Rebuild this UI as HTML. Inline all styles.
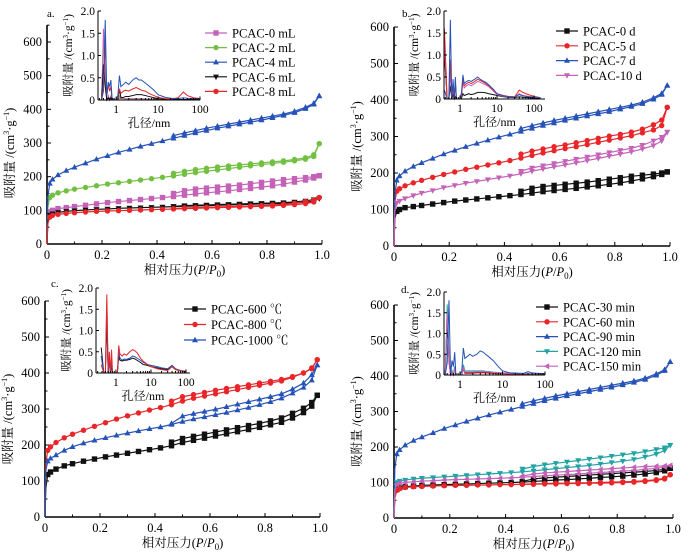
<!DOCTYPE html>
<html><head><meta charset="utf-8"><style>
html,body{margin:0;padding:0;background:#fff;}
svg{display:block;font-family:"Liberation Serif","Noto Serif CJK SC","Noto Sans CJK SC",serif;}
</style></head><body>
<svg id="fig" width="689" height="555" viewBox="0 0 689 555" xmlns="http://www.w3.org/2000/svg"></svg>
<script>
// ---- isotherm data ----
const pGrid = [0,0.003,0.01,0.02,0.04,0.07,0.1,0.14,0.18,0.22,0.26,0.3,0.34,0.38,0.42,0.46,0.5,0.54,0.58,0.62,0.66,0.7,0.74,0.78,0.82,0.86,0.9,0.94,0.97,0.99];
const pDes = [0.46,0.5,0.54,0.58,0.62,0.66,0.7,0.74,0.78,0.82,0.86,0.9,0.94,0.97,0.99];
const yTicks = [0,100,200,300,400,500,600];
const xTicks = [0,0.2,0.4,0.6,0.8,1.0];
const xTickLabels = ["0","0.2","0.4","0.6","0.8","1.0"];

const aBlueAds = [0,140,180,192,205,218,228,240,252,262,272,281,290,298,306,314,322,330,337,344,350,356,362,368,375,382,390,402,415,440];
const aBlueDes = [322,330,337,344,350,356,362,368,374,380,386,394,406,418,440];
const aGreenAds = [0,110,138,145,152,158,163,168,173,178,182,186,190,194,198,202,207,212,216,220,224,228,232,236,239,243,247,252,260,298];
const aGreenDes = [210,216,221,225,229,232,235,238,241,244,247,251,256,265,298];
const aPinkAds = [0,75,95,100,105,108,111,115,119,123,126,129,132,135,138,141,145,149,152,155,158,162,165,169,173,178,184,190,196,203];
const aPinkDes = [150,158,163,166,169,172,175,179,183,187,191,194,197,200,203];
const aBlackAds = [0,65,86,90,94,97,99,101,103,104,106,107,108,109,110,111,112,113,114,115,116,117,118,119,120,121,122,124,127,135];
const aBlackDes = [112,114,115,116,117,118,119,120,121,122,123,125,128,132,135];
const aRedAds = [0,60,80,85,88,91,93,95,97,98,99,100,101,102,103,104,105,106,107,108,109,110,111,112,113,115,117,120,125,138];
const aRedDes = [105,107,108,109,110,111,112,113,114,116,118,121,126,130,138];

const bRedAds = [0,120,150,157,165,173,180,188,196,203,210,216,222,228,234,241,248,255,261,267,272,278,284,290,296,302,310,318,330,380];
const bRedDes = [252,260,266,272,277,283,289,295,301,306,312,320,332,345,380];
const bPinkAds = [0,95,118,123,130,138,145,152,160,166,172,177,182,187,192,198,205,211,217,222,228,234,240,246,252,258,266,275,288,312];
const bPinkDes = [205,214,220,226,232,238,244,250,256,262,268,276,288,298,312];

const cBlackAds = [0,80,118,125,133,142,148,155,161,167,172,177,182,187,192,198,207,213,219,225,231,237,243,249,256,263,275,290,308,338];
const cBlackDes = [208,218,224,230,236,242,248,254,260,267,275,288,302,318,338];
const cRedAds = [0,150,185,195,207,220,230,241,252,262,272,281,289,297,304,312,322,330,336,342,348,354,360,366,372,378,388,400,412,437];
const cRedDes = [322,334,340,346,352,357,362,367,372,377,382,390,400,414,437];
const cBlueAds = [0,130,155,163,172,185,195,205,213,220,227,233,239,245,250,257,265,272,278,284,290,297,304,312,320,330,344,360,380,422];
const cBlueDes = [260,280,287,293,299,306,313,320,327,334,342,355,372,395,422];

const dBlackAds = [0,60,80,85,88,90,92,93,94,95,96,97,98,99,100,101,103,105,107,108,110,112,114,116,118,121,124,128,133,140];
const dBlackDes = [103,110,113,115,117,119,121,123,125,127,129,131,134,137,140];
const dRedAds = [0,55,78,83,86,88,89,90,91,92,92,93,93,94,94,95,95,96,96,97,97,98,98,99,100,101,103,106,110,122];
const dRedDes = [95,96,97,98,98,99,99,100,101,102,103,105,108,112,122];
const dTealAds = [0,80,100,104,107,110,112,114,116,118,120,122,124,126,128,130,133,136,139,142,145,148,152,156,160,165,172,180,190,205];
const dTealDes = [138,145,150,154,158,162,166,170,174,178,182,187,193,198,205];
const dPinkAds = [0,75,95,98,100,102,104,105,107,108,109,110,111,112,113,115,117,119,121,122,124,126,128,130,132,134,137,140,144,148];
const dPinkDes = [118,124,127,129,131,133,135,137,139,141,143,145,146,147,148];

// ---- pore size distribution (inset) data ----
const dGrid = [0.38,0.45,0.5,0.55,0.6,0.65,0.7,0.75,0.8,0.9,1.0,1.1,1.2,1.3,1.5,1.7,2.0,2.5,3.0,3.5,4,5,6,8,10,15,20,30,40,50,70,100,150,200];
const insetYTicks = [0,0.5,1.0,1.5,2.0];
const insetYLabels = ["0","0.5","1.0","1.5","2.0"];
const insetXTicks = [1,10,100];

const iaBlue  = [0,0,0.2,1.8,0.1,0.4,0.3,0.45,0.05,0,0,0.1,0.55,0.3,0.35,0.4,0.35,0.45,0.5,0.45,0.45,0.38,0.32,0.22,0.12,0.06,0.04,0.03,0.05,0.04,0.03,0.02,0.02,0.02];
const iaRed   = [0,0,0.3,1.3,0.1,0.35,0.2,0.3,0.02,0,0,0.05,0.25,0.15,0.2,0.22,0.2,0.25,0.28,0.25,0.22,0.2,0.15,0.1,0.06,0.03,0.02,0.05,0.18,0.1,0.05,0.03,0.02,0.02];
const iaGreen = [0,0,1.4,0.5,0,0.05,0,0.1,0,0,0,0,0.1,0.05,0.03,0.02,0.02,0.02,0.02,0.02,0.02,0.02,0.02,0.02,0.02,0.01,0.01,0.01,0.01,0.01,0.01,0.01,0.01,0.01];
const iaPink  = [0,0,1.6,0.4,0,0.1,0,0.08,0,0,0,0,0.05,0.03,0.03,0.03,0.03,0.03,0.03,0.03,0.03,0.02,0.02,0.02,0.02,0.01,0.01,0.01,0.01,0.01,0.01,0.01,0.01,0.01];
const iaBlack = [0,0,0.8,0.3,0,0.05,0,0.05,0,0,0,0,0.25,0.05,0.06,0.08,0.08,0.1,0.12,0.12,0.12,0.1,0.08,0.05,0.03,0.02,0.01,0.01,0.01,0.01,0.01,0.01,0.01,0.01];

const ibBlack = [1.0,0,0,0.3,0,0.1,0,0.05,0,0,0,0.02,0.12,0.08,0.1,0.12,0.1,0.12,0.15,0.15,0.15,0.14,0.12,0.1,0.08,0.05,0.04,0.03,0.05,0.04,0.03,0.02,0.02,0.01];
const ibRed   = [1.6,0,0,0.9,0,0.35,0,0.4,0,0,0,0.1,0.45,0.3,0.35,0.38,0.35,0.4,0.45,0.42,0.4,0.35,0.3,0.2,0.12,0.08,0.06,0.05,0.2,0.15,0.1,0.06,0.03,0.02];
const ibBlue  = [0.2,0,0,1.8,0,0.45,0,0.5,0,0,0,0.15,0.55,0.35,0.4,0.42,0.4,0.45,0.5,0.45,0.42,0.38,0.32,0.22,0.12,0.07,0.05,0.04,0.1,0.07,0.05,0.04,0.03,0.02];
const ibPink  = [1.2,0,0,0.6,0,0.3,0,0.35,0,0,0,0.08,0.4,0.25,0.3,0.33,0.3,0.35,0.4,0.38,0.36,0.32,0.28,0.18,0.1,0.06,0.05,0.04,0.12,0.08,0.06,0.04,0.03,0.02];

const icBlack = [0.6,0,0,1.2,0,0.3,0,0.2,0,0,0,0,0.4,0.3,0.28,0.3,0.3,0.32,0.35,0.33,0.3,0.25,0.2,0.18,0.15,0.12,0.1,0.08,0.15,0.08,0.05,0.03,0.02,0.02];
const icRed   = [0.2,0,0,1.85,0,0.5,0,0.55,0,0,0,0,0.65,0.45,0.4,0.45,0.42,0.5,0.55,0.52,0.48,0.35,0.28,0.2,0.15,0.1,0.08,0.06,0.15,0.08,0.05,0.03,0.02,0.02];
const icBlue  = [0.4,0,0,1.7,0,0.3,0,0.25,0,0,0,0,0.5,0.35,0.3,0.33,0.32,0.35,0.4,0.38,0.35,0.3,0.25,0.2,0.18,0.15,0.12,0.1,0.18,0.1,0.06,0.04,0.02,0.02];

const idBlack = [0,0,1.2,0.4,0,0.05,0,0.2,0,0,0,0,0.2,0.05,0.05,0.05,0.06,0.06,0.06,0.06,0.06,0.05,0.05,0.04,0.04,0.03,0.03,0.03,0.03,0.02,0.02,0.02,0.02,0.02];
const idRed   = [0,0,1.5,0.3,0,0.05,0,0.15,0,0,0,0,0.15,0.04,0.04,0.04,0.04,0.05,0.05,0.05,0.05,0.04,0.04,0.03,0.03,0.02,0.02,0.02,0.02,0.02,0.02,0.02,0.02,0.02];
const idBlue  = [0,0,0.3,1.8,0,0.35,0.2,0.55,0,0,0,0.1,0.65,0.4,0.45,0.5,0.45,0.5,0.58,0.55,0.5,0.42,0.35,0.2,0.1,0.05,0.04,0.03,0.08,0.05,0.04,0.03,0.02,0.02];
const idTeal  = [0,0,1.7,0.5,0,0.1,0,0.2,0,0,0,0,0.25,0.1,0.1,0.1,0.1,0.1,0.1,0.1,0.09,0.08,0.07,0.06,0.05,0.05,0.05,0.04,0.04,0.03,0.03,0.03,0.02,0.02];
const idPink  = [0,0,1.5,0.4,0,0.08,0,0.15,0,0,0,0,0.18,0.07,0.07,0.07,0.07,0.08,0.08,0.08,0.08,0.07,0.06,0.05,0.05,0.04,0.04,0.04,0.03,0.03,0.03,0.02,0.02,0.02];

const C = {black:"#111111", red:"#e8262a", blue:"#2452b8", green:"#72c043", pink:"#c462b8", teal:"#22a3a3"};
const NS = "http://www.w3.org/2000/svg";
const svg = document.getElementById("fig");

function el(tag, attrs, parent){
  const e = document.createElementNS(NS, tag);
  for (const k in attrs) e.setAttribute(k, attrs[k]);
  (parent||svg).appendChild(e);
  return e;
}
function marker(g, shape, x, y, color){
  const s = 2.7;
  let m;
  if (shape==="square") m = el("rect",{x:x-s,y:y-s,width:2*s,height:2*s,fill:color},g);
  else if (shape==="circle") m = el("circle",{cx:x,cy:y,r:s,fill:color},g);
  else if (shape==="up") m = el("polygon",{points:`${x},${y-s-0.5} ${x-s-0.3},${y+s-0.5} ${x+s+0.3},${y+s-0.5}`,fill:color},g);
  else if (shape==="down") m = el("polygon",{points:`${x},${y+s+0.5} ${x-s-0.3},${y-s+0.5} ${x+s+0.3},${y-s+0.5}`,fill:color},g);
  else m = el("polygon",{points:`${x-s-0.5},${y} ${x+s-0.5},${y-s-0.3} ${x+s-0.5},${y+s+0.3}`,fill:color},g);
  
  
}

function panel(cfg){
  const g = el("g",{});
  
  
  const sx = v => cfg.x0 + v*(cfg.x1-cfg.x0);
  const sy = v => cfg.y0 - v*(cfg.y0-cfg.y600)/600;
  // axes
  const ax = el("g",{stroke:"#000","stroke-width":1.6,fill:"none"},g);
  
  
  el("line",{x1:cfg.x0,y1:cfg.y0,x2:cfg.x0,y2:sy(cfg.ymaxAxis)},ax);
  el("line",{x1:cfg.x0,y1:cfg.y0,x2:cfg.x1,y2:cfg.y0},ax);
  for (let v=0; v<=cfg.ymaxAxis; v+=50){
    const L = v%100===0 ? 4 : 2.5;
    el("line",{x1:cfg.x0,y1:sy(v),x2:cfg.x0+L,y2:sy(v),"stroke-width":1},ax);
  }
  for (let i=0;i<=10;i++){
    const L = i%2===0 ? 4 : 2.5;
    el("line",{x1:sx(i/10),y1:cfg.y0,x2:sx(i/10),y2:cfg.y0-L,"stroke-width":1},ax);
  }
  yTicks.forEach(v=>{
    const t = el("text",{x:cfg.x0-5,y:sy(v)+4,"text-anchor":"end","font-size":12.5},g);
    t.textContent = v;
    
    
  });
  xTicks.forEach((v,i)=>{
    const t = el("text",{x:sx(v),y:cfg.y0+15,"text-anchor":"middle","font-size":12.5},g);
    t.textContent = xTickLabels[i];
    
    
  });
  // titles
  const xt = el("text",{x:(cfg.x0+cfg.x1)/2,y:cfg.y0+30,"text-anchor":"middle","font-size":12.5},g);
  xt.innerHTML = '相对压力(<tspan font-style="italic">P</tspan>/<tspan font-style="italic">P</tspan><tspan font-size="9" dy="3">0</tspan><tspan dy="-3">)</tspan>';
  
  
  const ycx = cfg.x0-33, ycy = (cfg.y0+cfg.y600)/2+10;
  const yt = el("text",{x:ycx,y:ycy,"text-anchor":"middle","font-size":12.5,transform:`rotate(-90 ${ycx} ${ycy})`},g);
  yt.innerHTML = '吸附量 /(cm<tspan font-size="8" dy="-5">3</tspan><tspan dy="5">·g</tspan><tspan font-size="8" dy="-5">−1</tspan><tspan dy="5">)</tspan>';
  
  
  const lab = el("text",{x:cfg.labX,y:cfg.labY,"font-size":11},g);
  lab.textContent = cfg.id + ".";
  
  
  // series
  cfg.series.forEach(s=>{
    const sg = el("g",{},g);
    
    
    const adsPts = pGrid.map((p,i)=>[sx(p),sy(s.ads[i])]);
    const desPts = pDes.map((p,i)=>[sx(p),sy(s.des[i])]);
    const l1 = el("polyline",{points:adsPts.map(p=>p.join(",")).join(" "),fill:"none",stroke:s.color,"stroke-width":1.2},sg);
    
    
    const l2 = el("polyline",{points:desPts.map(p=>p.join(",")).join(" "),fill:"none",stroke:s.color,"stroke-width":1.2},sg);
    
    
    adsPts.forEach((p,i)=>{ if(i>=2) marker(sg,s.shape,p[0],p[1],s.color); });
    desPts.forEach(p=>marker(sg,s.shape,p[0],p[1],s.color));
  });
  // legend
  cfg.series.forEach((s,i)=>{
    const lg = el("g",{},g);
    
    
    const y = cfg.legY + i*cfg.legDy;
    el("line",{x1:cfg.legX,y1:y,x2:cfg.legX+22,y2:y,stroke:s.color,"stroke-width":1.2},lg);
    marker(lg,s.shape,cfg.legX+11,y,s.color);
    const t = el("text",{x:cfg.legX+27,y:y+4.5,"font-size":12.5},lg);
    t.textContent = s.name;
  });
  // inset
  const I = cfg.inset;
  const ig = el("g",{},g);
  
  
  const lmin = Math.log10(I.dmin), lmax = Math.log10(I.dmax);
  const ix = d => I.L + (Math.log10(d)-lmin)/(lmax-lmin)*(I.R-I.L);
  const iy = v => I.B - v/2*(I.B-I.T);
  I.series.forEach(s=>{
    const pts = [];
    dGrid.forEach((d,i)=>{ if(d>=I.dmin && d<=I.dmax) pts.push(ix(d)+","+iy(s.v[i])); });
    const pl = el("polyline",{points:pts.join(" "),fill:"none",stroke:s.color,"stroke-width":1},ig);
    
    
  });
  const iax = el("g",{stroke:"#000","stroke-width":1,fill:"none"},ig);
  el("line",{x1:I.L,y1:I.T,x2:I.L,y2:I.B},iax);
  el("line",{x1:I.L,y1:I.B,x2:I.R,y2:I.B},iax);
  insetYTicks.forEach((v,i)=>{
    el("line",{x1:I.L,y1:iy(v),x2:I.L+3,y2:iy(v)},iax);
    const t = el("text",{x:I.L-3,y:iy(v)+4,"text-anchor":"end","font-size":11.5},ig);
    t.textContent = insetYLabels[i];
    
    
  });
  for (let dec=-1; dec<=2; dec++){
    for (let k=1;k<10;k++){
      const d = k*Math.pow(10,dec);
      if (d<I.dmin || d>I.dmax) continue;
      el("line",{x1:ix(d),y1:I.B,x2:ix(d),y2:I.B-(k===1?3.5:2)},iax);
    }
  }
  insetXTicks.forEach(v=>{
    const t = el("text",{x:ix(v),y:I.B+13,"text-anchor":"middle","font-size":11.5},ig);
    t.textContent = v;
    
    
  });
  const ixt = el("text",{x:(I.L+I.R)/2,y:I.B+27,"text-anchor":"middle","font-size":12},ig);
  ixt.textContent = "孔径/nm";
  
  
  const cx = I.L-26, cy = (I.T+I.B)/2;
  const iyt = el("text",{x:cx,y:cy,"text-anchor":"middle","font-size":11.5,transform:`rotate(-90 ${cx} ${cy})`},ig);
  iyt.innerHTML = '吸附量 /(cm<tspan font-size="7" dy="-4">3</tspan><tspan dy="4">·g</tspan><tspan font-size="7" dy="-4">−1</tspan><tspan dy="4">)</tspan>';
  
  
}

panel({id:"a", x0:47, x1:322, y0:244, y600:42, ymaxAxis:650, labX:47, labY:17,
  legX:205, legY:33, legDy:14.6,
  series:[
    {name:"PCAC-0 mL", color:C.pink, shape:"square", ads:aPinkAds, des:aPinkDes},
    {name:"PCAC-2 mL", color:C.green, shape:"circle", ads:aGreenAds, des:aGreenDes},
    {name:"PCAC-4 mL", color:C.blue, shape:"up", ads:aBlueAds, des:aBlueDes},
    {name:"PCAC-6 mL", color:C.black, shape:"down", ads:aBlackAds, des:aBlackDes},
    {name:"PCAC-8 mL", color:C.red, shape:"circle", ads:aRedAds, des:aRedDes}],
  inset:{L:98,R:200,T:11,B:100,dmin:0.37,dmax:100, series:[
    {color:C.green,v:iaGreen},{color:C.pink,v:iaPink},{color:C.black,v:iaBlack},{color:C.red,v:iaRed},{color:C.blue,v:iaBlue}]}
});
panel({id:"b", x0:394, x1:670, y0:246, y600:27, ymaxAxis:600, labX:402, labY:17,
  legX:556, legY:31, legDy:14.8,
  series:[
    {name:"PCAC-0 d", color:C.black, shape:"square", ads:aPinkAds, des:aPinkDes},
    {name:"PCAC-5 d", color:C.red, shape:"circle", ads:bRedAds, des:bRedDes},
    {name:"PCAC-7 d", color:C.blue, shape:"up", ads:aBlueAds, des:aBlueDes},
    {name:"PCAC-10 d", color:C.pink, shape:"down", ads:bPinkAds, des:bPinkDes}],
  inset:{L:444,R:545,T:11,B:99,dmin:0.37,dmax:198, series:[
    {color:C.black,v:ibBlack},{color:C.pink,v:ibPink},{color:C.red,v:ibRed},{color:C.blue,v:ibBlue}]}
});
panel({id:"c", x0:45, x1:320, y0:517, y600:301, ymaxAxis:600, labX:51, labY:287,
  legX:184, legY:309, legDy:15.5,
  series:[
    {name:"PCAC-600 ℃", color:C.black, shape:"square", ads:cBlackAds, des:cBlackDes},
    {name:"PCAC-800 ℃", color:C.red, shape:"circle", ads:cRedAds, des:cRedDes},
    {name:"PCAC-1000 ℃", color:C.blue, shape:"up", ads:cBlueAds, des:cBlueDes}],
  inset:{L:96,R:190,T:288,B:373,dmin:0.27,dmax:130, series:[
    {color:C.black,v:icBlack},{color:C.blue,v:icBlue},{color:C.red,v:icRed}]}
});
panel({id:"d", x0:394, x1:673, y0:518, y600:305, ymaxAxis:600, labX:401, labY:293,
  legX:536, legY:307, legDy:14.8,
  series:[
    {name:"PCAC-30 min", color:C.black, shape:"square", ads:dBlackAds, des:dBlackDes},
    {name:"PCAC-60 min", color:C.red, shape:"circle", ads:dRedAds, des:dRedDes},
    {name:"PCAC-90 min", color:C.blue, shape:"up", ads:aBlueAds, des:aBlueDes},
    {name:"PCAC-120 min", color:C.teal, shape:"down", ads:dTealAds, des:dTealDes},
    {name:"PCAC-150 min", color:C.pink, shape:"left", ads:dPinkAds, des:dPinkDes}],
  inset:{L:444,R:545,T:292,B:375,dmin:0.42,dmax:100, series:[
    {color:C.black,v:idBlack},{color:C.red,v:idRed},{color:C.teal,v:idTeal},{color:C.pink,v:idPink},{color:C.blue,v:idBlue}]}
});
</script>
</body></html>
